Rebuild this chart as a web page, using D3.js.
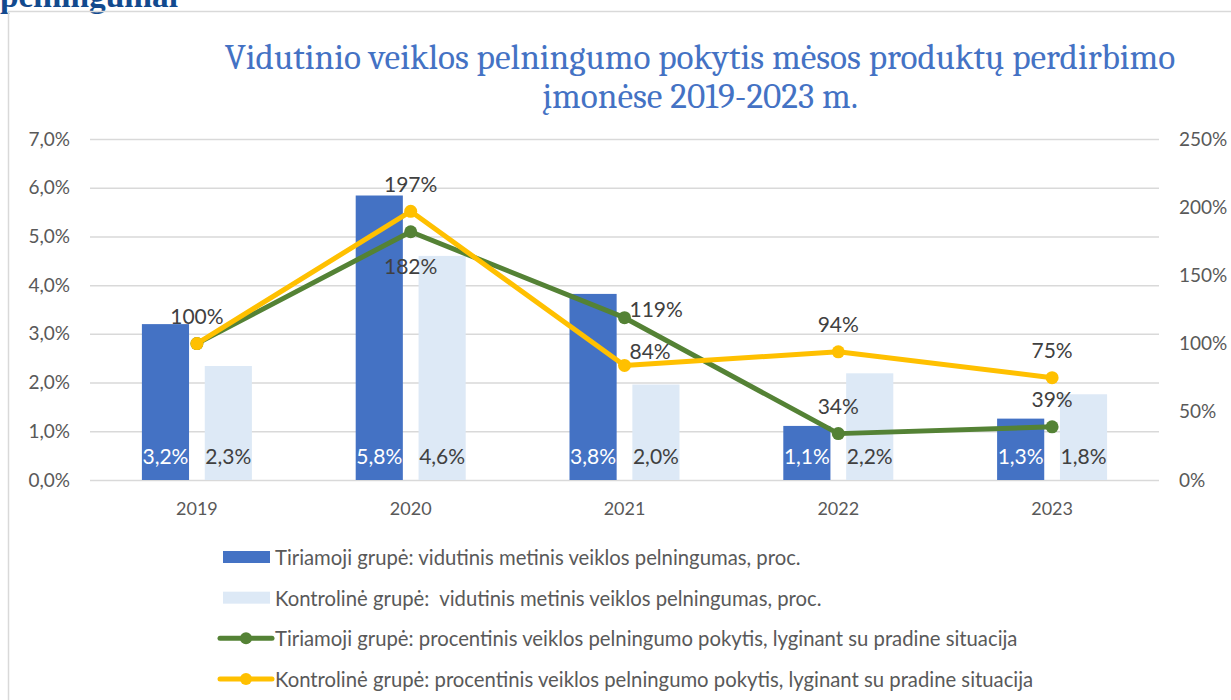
<!DOCTYPE html>
<html><head><meta charset="utf-8">
<script src="https://cdn.jsdelivr.net/npm/d3@7"></script>
<style>
html,body{margin:0;padding:0;background:#fff;}
svg{display:block;}
</style></head>
<body>
<svg id="chart" width="1231" height="700"></svg>
<script>
// ---- data ----
const categories = ["2019","2020","2021","2022","2023"];
const barSeriesNames = ["Tiriamoji grupė: vidutinis metinis veiklos pelningumas, proc.",
                        "Kontrolinė grupė:  vidutinis metinis veiklos pelningumas, proc."];
const lineSeriesNames = ["Tiriamoji grupė: procentinis veiklos pelningumo pokytis, lyginant su pradine situacija",
                         "Kontrolinė grupė: procentinis veiklos pelningumo pokytis, lyginant su pradine situacija"];
const tiriamojiProfit = [3.2, 5.84, 3.82, 1.11, 1.26];   // % (left axis)
const kontrolineProfit = [2.34, 4.6, 1.96, 2.19, 1.76];  // % (left axis)
const tiriamojiChange = [100, 182, 119, 34, 39];          // % (right axis)
const kontrolineChange = [100, 197, 84, 94, 75];          // % (right axis)
const leftTicks = [0,1,2,3,4,5,6,7];
const rightTicks = [0,50,100,150,200,250];
const titleLines = ["Vidutinio veiklos pelningumo pokytis mėsos produktų perdirbimo", "įmonėse 2019-2023 m."];
const headingFragment = "pelningumai";

// label placement hints (style, not data)
const greenLabelPos = ["none","below","right","above","above"];
const yellowLabelPos = ["above","above","aboveRight","above","above"];

// ---- layout ----
const svg = d3.select("#chart");
const M = {left:90, right:1159, top:139, bottom:480};
const font = "Lato, 'Open Sans', sans-serif";
const colDark = "#4472C4", colLight = "#DDE9F6", colGreen = "#548235", colYellow = "#FFC000";
const gray = "#595959", dataGray = "#404040", grid = "#D9D9D9";

const comma = d3.formatLocale({decimal:",", thousands:" ", grouping:[3], currency:["",""]});
const f1 = comma.format(".1f"), f0 = comma.format(".0f");

function fitWidth(sel, target){
  const w = sel.node().getComputedTextLength();
  const fs = parseFloat(sel.attr("font-size"));
  sel.attr("font-size", fs*target/w);
  return fs*target/w;
}

// heading fragment (cut off at top, as in the source) + frame
const head = svg.append("text").attr("x",0).attr("y",7)
  .attr("font-family","'Liberation Serif', 'DejaVu Serif', serif").attr("font-weight","bold")
  .attr("font-size",30).attr("fill","#124A8E").text(headingFragment);
fitWidth(head, 178);
svg.append("path").attr("d","M8.5,700 L8.5,11.5 L1231,11.5")
  .attr("fill","none").attr("stroke","#D9D9D9").attr("stroke-width",1.5);

// title
const t1 = svg.append("text").attr("text-anchor","middle").attr("x",700).attr("y",69)
  .attr("font-family","Cambria, 'Liberation Serif', serif").attr("font-size",31).attr("fill",colDark)
  .text(titleLines[0]);
const tfs = fitWidth(t1, 951);
svg.append("text").attr("text-anchor","middle").attr("x",700).attr("y",108)
  .attr("font-family","Cambria, 'Liberation Serif', serif").attr("font-size",tfs).attr("fill",colDark)
  .text(titleLines[1]);

// scales
const x = d3.scaleBand().domain(categories).range([M.left, M.right]);
const xi = d3.scaleBand().domain([0,1]).range([-55,55]).paddingInner(0.25);
const yL = d3.scaleLinear().domain([0,7]).range([M.bottom, M.top]);
const yR = d3.scaleLinear().domain([0,250]).range([M.bottom, M.top]);

// gridlines
const gGrid = svg.append("g").attr("transform",`translate(${M.left},0)`)
  .call(d3.axisLeft(yL).tickValues(leftTicks).tickSize(-(M.right-M.left)).tickFormat(""));
gGrid.select(".domain").remove();
gGrid.selectAll("line").attr("stroke",grid).attr("stroke-width",1.5);

// left axis labels
const gL = svg.append("g").attr("transform",`translate(70,0)`)
  .call(d3.axisLeft(yL).tickValues(leftTicks).tickSize(0).tickPadding(0).tickFormat(d=>f1(d)+"%"));
gL.select(".domain").remove();
gL.selectAll("text").attr("font-family",font).attr("font-size",19).attr("fill",gray);

// right axis labels
const gR = svg.append("g").attr("transform",`translate(1179,0)`)
  .call(d3.axisRight(yR).tickValues(rightTicks).tickSize(0).tickPadding(0).tickFormat(d=>f0(d)+"%"));
gR.select(".domain").remove();
gR.selectAll("text").attr("font-family",font).attr("font-size",19).attr("fill",gray);

// category axis
const gX = svg.append("g").attr("transform",`translate(0,${M.bottom})`)
  .call(d3.axisBottom(x).tickSize(0).tickPadding(22));
gX.select(".domain").remove();
gX.selectAll("text").attr("font-family",font).attr("font-size",18).attr("fill",gray);

// bars
const barData = [tiriamojiProfit, kontrolineProfit];
const barColors = [colDark, colLight];
const barLabelColors = ["#FFFFFF", dataGray];
barData.forEach((vals,si)=>{
  const g = svg.append("g");
  g.selectAll("rect").data(vals).join("rect")
    .attr("x",(d,i)=>x(categories[i])+x.bandwidth()/2+xi(si))
    .attr("width",xi.bandwidth())
    .attr("y",d=>yL(d)).attr("height",d=>yL(0)-yL(d))
    .attr("fill",barColors[si]);
  g.selectAll("text").data(vals).join("text")
    .attr("x",(d,i)=>x(categories[i])+x.bandwidth()/2+xi(si)+xi.bandwidth()/2)
    .attr("y",yL(0)-16).attr("text-anchor","middle")
    .attr("font-family",font).attr("font-size",21).attr("fill",barLabelColors[si])
    .text(d=>f1(d)+"%");
});

// lines
const lineData = [tiriamojiChange, kontrolineChange];
const lineColors = [colGreen, colYellow];
const labelPos = [greenLabelPos, yellowLabelPos];
const cx = i => x(categories[i]) + x.bandwidth()/2;
const line = d3.line().x((d,i)=>cx(i)).y(d=>yR(d));
lineData.forEach((vals,si)=>{
  const g = svg.append("g");
  g.append("path").datum(vals).attr("d",line).attr("fill","none")
    .attr("stroke",lineColors[si]).attr("stroke-width",5).attr("stroke-linejoin","round");
  g.selectAll("circle").data(vals).join("circle")
    .attr("cx",(d,i)=>cx(i)).attr("cy",d=>yR(d)).attr("r",6.5).attr("fill",lineColors[si]);
});
lineData.forEach((vals,si)=>{
  svg.append("g").selectAll("text").data(vals.map((v,i)=>({v,i})).filter(o=>labelPos[si][o.i]!=="none")).join("text")
    .attr("font-family",font).attr("font-size",21).attr("fill",dataGray)
    .attr("dominant-baseline","central")
    .each(function(o){
      const p = labelPos[si][o.i], t = d3.select(this);
      let X = cx(o.i), Y = yR(o.v), anchor = "middle";
      if (p==="above") { Y -= 28; }
      else if (p==="below") { Y += 34; }
      else if (p==="right") { X += 5; Y -= 9; anchor = "start"; }
      else if (p==="aboveRight") { X += 5; Y -= 15; anchor = "start"; }
      t.attr("x",X).attr("y",Y).attr("text-anchor",anchor);
    })
    .text(o=>f0(o.v)+"%");
});

// legend
const legendItems = [
  {name:barSeriesNames[0], type:"bar", color:colDark},
  {name:barSeriesNames[1], type:"bar", color:colLight},
  {name:lineSeriesNames[0], type:"line", color:colGreen},
  {name:lineSeriesNames[1], type:"line", color:colYellow}
];
const legY = d3.scalePoint().domain(d3.range(legendItems.length)).range([557,679]);
const lg = svg.append("g").selectAll("g").data(legendItems).join("g")
  .attr("transform",(d,i)=>`translate(0,${legY(i)})`);
lg.filter(d=>d.type==="bar").append("rect").attr("x",223).attr("y",-6).attr("width",47).attr("height",12).attr("fill",d=>d.color);
lg.filter(d=>d.type==="line").append("line").attr("x1",220).attr("x2",272).attr("stroke",d=>d.color).attr("stroke-width",5).attr("stroke-linecap","round");
lg.filter(d=>d.type==="line").append("circle").attr("cx",246).attr("r",6).attr("fill",d=>d.color);
lg.append("text").attr("x",275).attr("dominant-baseline","central")
  .style("white-space","pre")
  .attr("font-family",font).attr("font-size",20.3).attr("fill",gray).text(d=>d.name);
</script>
</body></html>
